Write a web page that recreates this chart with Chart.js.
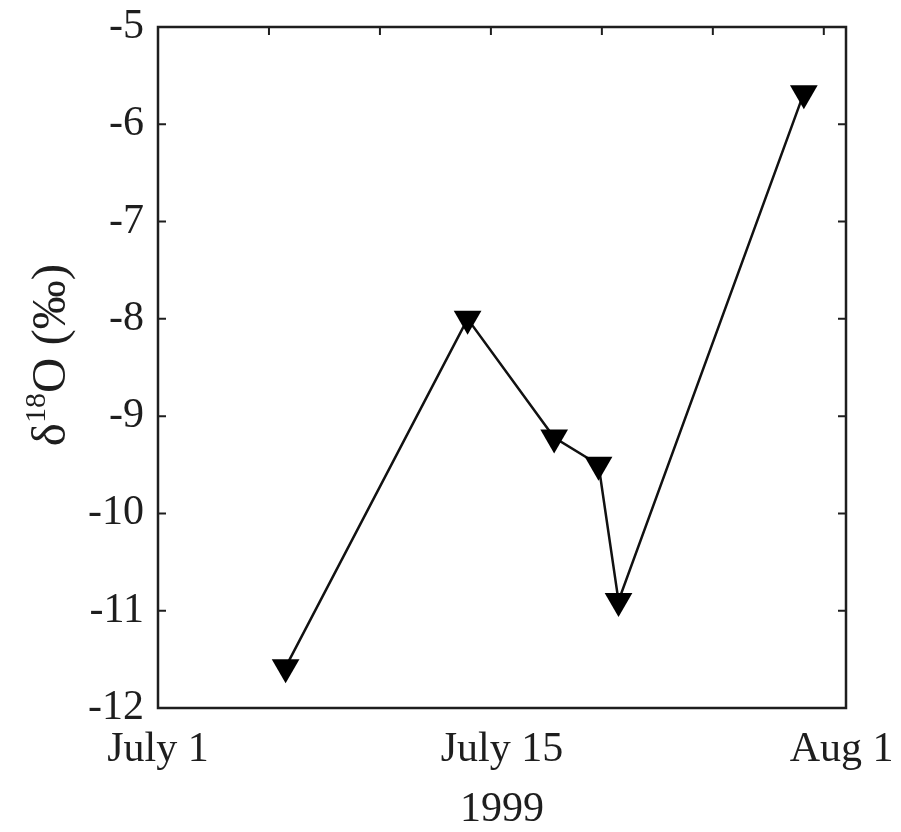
<!DOCTYPE html>
<html>
<head>
<meta charset="utf-8">
<script src="https://cdn.jsdelivr.net/npm/chart.js@4"></script>
<style>
  html, body { margin: 0; padding: 0; background: #fff; }
  #wrap { width: 901px; height: 832px; position: relative; }
</style>
</head>
<body>
<div id="wrap"><canvas id="c" width="901" height="832"></canvas></div>
<script>
// ---- data (days after July 1, 1999) ----
const sampleDays = [5.75, 13.95, 17.85, 19.85, 20.75, 29.1];
const d18O = [-11.58, -8.0, -9.22, -9.5, -10.9, -5.68];

// ---- axis labels / ticks ----
const xLabelDays = [0, 15.5, 30.8];
const xLabels = ['July 1', 'July 15', 'Aug 1'];
const topTickDays = [5, 10, 15, 20, 25, 30];
const yTickValues = [-12, -11, -10, -9, -8, -7, -6, -5];
const xTitle = '1999';
const yTitleParts = ['δ', '18', 'O (‰)'];

const FONT = '"Liberation Serif", "Times New Roman", serif';
const INK = '#1e1e1e';

const framePlugin = {
  id: 'frame',
  afterDatasetsDraw(chart) {
    const ctx = chart.ctx;
    const xs = chart.scales.x, ys = chart.scales.y;
    const a = chart.chartArea;
    ctx.save();
    ctx.strokeStyle = INK;
    ctx.lineWidth = 2.5;
    ctx.strokeRect(a.left, a.top, a.right - a.left, a.bottom - a.top);
    ctx.lineWidth = 2;
    ctx.beginPath();
    yTickValues.forEach(v => {
      const py = ys.getPixelForValue(v);
      ctx.moveTo(a.left, py); ctx.lineTo(a.left + 8, py);
      ctx.moveTo(a.right, py); ctx.lineTo(a.right - 8, py);
    });
    topTickDays.forEach(d => {
      const px = xs.getPixelForValue(d);
      ctx.moveTo(px, a.top); ctx.lineTo(px, a.top + 8);
    });
    ctx.stroke();
    ctx.restore();
  },
  afterDraw(chart) {
    const ctx = chart.ctx;
    ctx.save();
    ctx.fillStyle = INK;
    ctx.translate(49, 355);
    ctx.rotate(-Math.PI / 2);
    const big = '49px ' + FONT, small = '30px ' + FONT;
    ctx.font = big; const w0 = ctx.measureText(yTitleParts[0]).width;
    const w2 = ctx.measureText(yTitleParts[2]).width;
    ctx.font = small; const w1 = ctx.measureText(yTitleParts[1]).width;
    const total = w0 + w1 + w2;
    let x = -total / 2;
    ctx.textBaseline = 'alphabetic';
    ctx.font = big; ctx.fillText(yTitleParts[0], x, 16); x += w0;
    ctx.font = small; ctx.fillText(yTitleParts[1], x, -4); x += w1;
    ctx.font = big; ctx.fillText(yTitleParts[2], x, 16);
    ctx.restore();
  }
};

new Chart(document.getElementById('c'), {
  type: 'scatter',
  data: {
    datasets: [{
      data: sampleDays.map((d, i) => ({ x: d, y: d18O[i] })),
      showLine: true,
      borderColor: '#111',
      borderWidth: 2.5,
      backgroundColor: '#000',
      pointBackgroundColor: '#000',
      pointBorderColor: '#000',
      pointBorderWidth: 0,
      pointStyle: 'triangle',
      rotation: 180,
      pointRadius: 16,
      pointHoverRadius: 16
    }]
  },
  plugins: [framePlugin],
  options: {
    responsive: false,
    animation: false,
    events: [],
    layout: { padding: { left: 0, right: 55, top: 27, bottom: 0 } },
    plugins: { legend: { display: false }, tooltip: { enabled: false } },
    scales: {
      x: {
        type: 'linear',
        min: 0, max: 31,
        afterBuildTicks(scale) { scale.ticks = xLabelDays.map(v => ({ value: v })); },
        afterFit(scale) { scale.height = 124; scale.paddingLeft = 0; scale.paddingRight = 0; },
        ticks: {
          color: INK,
          font: { family: FONT, size: 42 },
          padding: 17,
          maxRotation: 0,
          autoSkip: false,
          callback(value, index) { return xLabels[index]; }
        },
        grid: { display: false, drawTicks: false },
        border: { display: false },
        title: {
          display: true, text: xTitle, color: INK,
          font: { family: FONT, size: 42, lineHeight: 1.05 },
          padding: { top: 0, bottom: 0 }
        }
      },
      y: {
        type: 'linear',
        min: -12, max: -5,
        afterBuildTicks(scale) { scale.ticks = yTickValues.map(v => ({ value: v })); },
        afterFit(scale) { scale.width = 158; scale.paddingTop = 0; scale.paddingBottom = 0; },
        ticks: {
          color: INK,
          font: { family: FONT, size: 42 },
          padding: 14,
          autoSkip: false
        },
        grid: { display: false, drawTicks: false },
        border: { display: false }
      }
    }
  }
});
</script>
</body>
</html>
